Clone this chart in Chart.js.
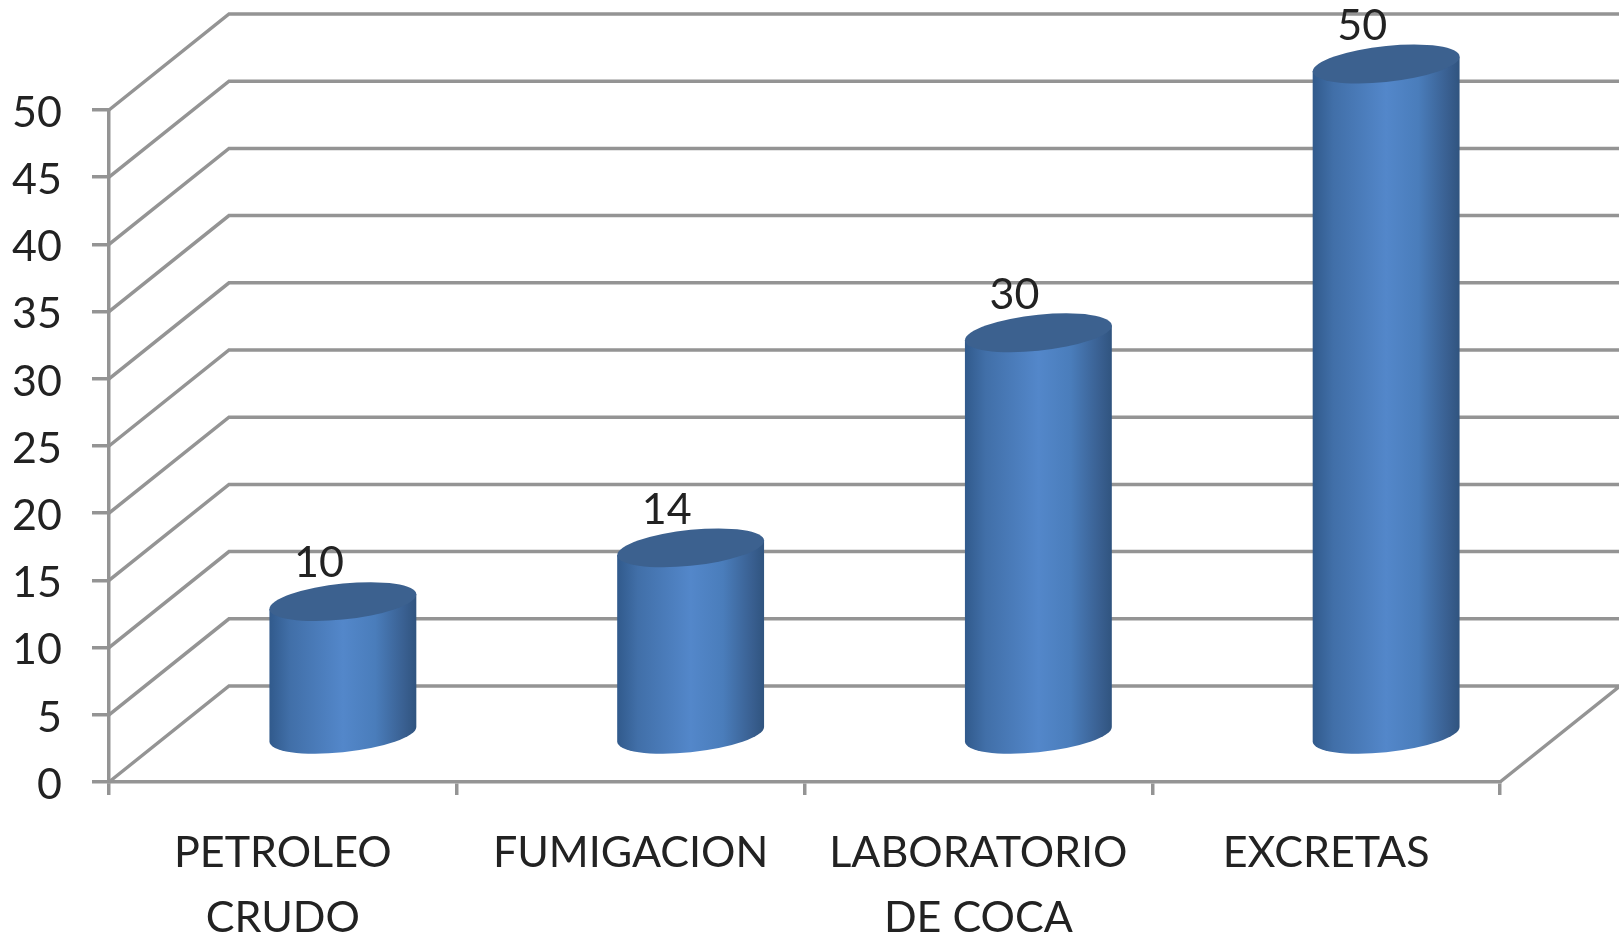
<!DOCTYPE html>
<html>
<head>
<meta charset="utf-8">
<title>Grafico</title>
<script src="https://cdn.jsdelivr.net/npm/chart.js@4"></script>
<style>
html, body { margin: 0; padding: 0; background: #fff; overflow: hidden; }
canvas { display: block; filter: blur(0.6px); }
</style>
</head>
<body>
<canvas id="grafico" width="1619" height="937"></canvas>
<script>
const categorias = [['PETROLEO', 'CRUDO'], ['FUMIGACION'], ['LABORATORIO', 'DE COCA'], ['EXCRETAS']];
const valores = [10, 14, 30, 50];
const marcasY = [0, 5, 10, 15, 20, 25, 30, 35, 40, 45, 50];

const gris = '#949494';
const fuente = { family: 'Lato, Carlito, sans-serif', size: 43 };
const fondoX = 120, fondoY = 96;   // profundidad de las paredes
const barraX = 60, barraY = 46;    // los cilindros van a media profundidad

// paredes y suelo en perspectiva, debajo de las barras
const paredes = {
    id: 'paredes',
    beforeDatasetsDraw(chart) {
        const { ctx, scales: { x, y } } = chart;
        ctx.save();
        ctx.strokeStyle = gris;
        ctx.lineWidth = 3.5;
        marcasY.forEach(v => {
            const py = y.getPixelForValue(v);
            ctx.beginPath();
            ctx.moveTo(x.left, py);
            ctx.lineTo(x.left + fondoX, py - fondoY);
            ctx.lineTo(x.right + fondoX, py - fondoY);
            if (v === 0) ctx.lineTo(x.right, py);
            ctx.stroke();
        });
        ctx.restore();
    }
};

// los elementos de barra dan la posicion, aqui se pintan como cilindros
const cilindros = {
    id: 'cilindros',
    afterDatasetsDraw(chart) {
        const { ctx } = chart;
        const k = 0.1;
        chart.getDatasetMeta(0).data.forEach((bar, i) => {
            const rx = bar.width / 2, ry = 18;
            const arriba = bar.y - barraY, abajo = bar.base - barraY;

            ctx.save();
            ctx.transform(1, -k, 0, 1, bar.x + barraX, 0);

            const grad = ctx.createLinearGradient(-rx, 0, rx, 0);
            grad.addColorStop(0, '#315a8c');
            grad.addColorStop(0.14, '#416fa8');
            grad.addColorStop(0.5, '#5387ca');
            grad.addColorStop(0.72, '#4a7dbb');
            grad.addColorStop(0.92, '#395f90');
            grad.addColorStop(1, '#30547f');

            ctx.beginPath();
            ctx.moveTo(-rx, arriba);
            ctx.lineTo(-rx, abajo);
            ctx.ellipse(0, abajo, rx, ry, 0, Math.PI, 0, true);
            ctx.lineTo(rx, arriba);
            ctx.closePath();
            ctx.fillStyle = grad;
            ctx.fill();

            ctx.beginPath();
            ctx.ellipse(0, arriba, rx, ry, 0, 0, Math.PI * 2);
            ctx.fillStyle = '#3c618f';
            ctx.fill();
            ctx.restore();

            ctx.save();
            ctx.font = fuente.size + 'px ' + fuente.family;
            ctx.fillStyle = '#222';
            ctx.textAlign = 'center';
            ctx.textBaseline = 'middle';
            ctx.fillText(String(valores[i]), bar.x + barraX - 24, arriba - 38);
            ctx.restore();
        });
    }
};

new Chart(document.getElementById('grafico'), {
    type: 'bar',
    data: {
        labels: categorias,
        datasets: [{
            data: valores,
            backgroundColor: 'transparent',
            categoryPercentage: 1,
            barPercentage: 0.4224
        }]
    },
    options: {
        responsive: false,
        animation: false,
        layout: { padding: { top: 110, right: 119 } },
        plugins: { legend: { display: false }, tooltip: { enabled: false } },
        scales: {
            x: {
                afterFit: s => { s.height = 155; },
                border: { color: gris, width: 3.5 },
                grid: { drawOnChartArea: false, color: gris, lineWidth: 3.5, tickLength: 13 },
                ticks: { color: '#222', font: { ...fuente, lineHeight: 1.51 }, padding: 26, maxRotation: 0, autoSkip: false }
            },
            y: {
                min: 0,
                max: 50,
                afterFit: s => { s.width = 109; },
                border: { color: gris, width: 3.5 },
                grid: { drawOnChartArea: false, color: gris, lineWidth: 3.5, tickLength: 17 },
                ticks: {
                    stepSize: 5,
                    color: '#222',
                    font: { ...fuente, lineHeight: 0.14 },
                    padding: 30,
                    // linea vacia delante: baja la etiqueta 3px respecto a la marca
                    callback: v => ['', String(v)]
                }
            }
        }
    },
    plugins: [paredes, cilindros]
});
</script>
</body>
</html>
